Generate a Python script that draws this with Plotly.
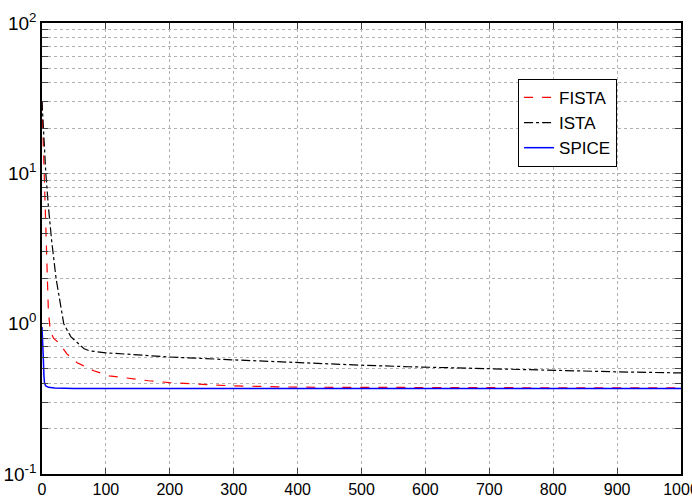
import plotly.graph_objects as go

fista_x = [0, 2, 4, 6, 8, 10, 13, 18, 27, 39, 55, 81, 105, 140, 167, 200, 250, 297, 400, 500, 700, 1000]
fista_y = [30, 15, 8, 4.5, 2.2, 1.2, 0.9, 0.8, 0.74, 0.63, 0.55, 0.486, 0.45, 0.43, 0.417, 0.405, 0.393, 0.386, 0.378, 0.376, 0.375, 0.374]

ista_x = [0, 3, 6, 10, 15, 22, 28, 34, 45, 66, 74, 100, 150, 200, 297, 397, 496, 574, 700, 800, 900, 1000]
ista_y = [30, 17, 10, 6, 3.6, 2.0, 1.4, 1.0, 0.82, 0.68, 0.66, 0.64, 0.62, 0.60, 0.575, 0.55, 0.53, 0.517, 0.50, 0.486, 0.478, 0.47]

spice_x = [0, 1, 2, 3, 4, 6, 10, 20, 50, 1000]
spice_y = [0.95, 0.8, 0.6, 0.45, 0.40, 0.385, 0.377, 0.373, 0.371, 0.37]

x_ticks = list(range(0, 1001, 100))
decades = [-1, 0, 1, 2]

yvals, ytext = [], []
for d in decades:
    for m in range(1, 10):
        if d == 2 and m > 1:
            break
        yvals.append(m * 10 ** d)
        ytext.append(f"10<sup>{d}</sup>" if m == 1 else "")

fig = go.Figure()
fig.add_trace(go.Scatter(x=fista_x, y=fista_y, mode="lines", name="FISTA",
                         line=dict(color="red", width=1.2, dash="dash")))
fig.add_trace(go.Scatter(x=ista_x, y=ista_y, mode="lines", name="ISTA",
                         line=dict(color="black", width=1.2, dash="dashdot")))
fig.add_trace(go.Scatter(x=spice_x, y=spice_y, mode="lines", name="SPICE",
                         line=dict(color="blue", width=1.5)))

font_fam = "Liberation Sans, Arial, sans-serif"
fig.update_layout(
    width=692, height=503,
    margin=dict(l=42, r=11, t=23, b=29),
    plot_bgcolor="white", paper_bgcolor="white",
    font=dict(family=font_fam, size=16, color="black"),
    legend=dict(x=0.745, y=0.876, xanchor="left", yanchor="top",
                bgcolor="white", bordercolor="black", borderwidth=1,
                font=dict(family=font_fam, size=17),
                itemwidth=30, tracegroupgap=2),
    xaxis=dict(range=[0, 1000], tickvals=x_ticks, ticks="inside", ticklen=6,
               showline=True, linecolor="black", linewidth=1.5, mirror="ticks",
               showgrid=True, gridcolor="#b0b0b0", griddash="dot", gridwidth=1,
               zeroline=False, automargin=False, ticklabeloverflow="allow",
               tickfont=dict(size=16)),
    yaxis=dict(type="log", range=[-1, 2], tickvals=yvals, ticktext=ytext,
               ticks="inside", ticklen=6,
               showline=True, linecolor="black", linewidth=1.5, mirror="ticks",
               showgrid=True, gridcolor="#b0b0b0", griddash="dot", gridwidth=1,
               zeroline=False, tickfont=dict(size=19), automargin=False,
               ticklabeloverflow="allow"),
)

fig.write_html("out.html")
